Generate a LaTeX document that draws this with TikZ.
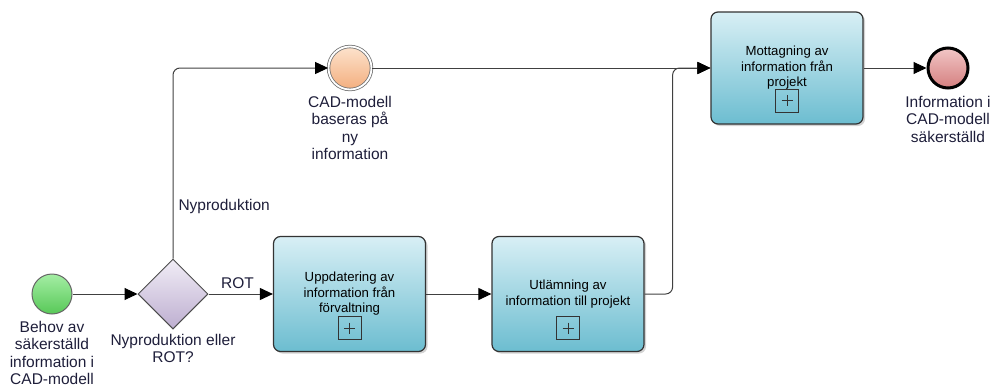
\documentclass[tikz,border=0pt]{standalone}
\usepackage{fontspec}
\setmainfont{Liberation Sans}
\usetikzlibrary{arrows.meta,positioning,shapes.geometric,shadows}

\definecolor{tasktop}{HTML}{D8EFF5}
\definecolor{taskbot}{HTML}{6CBDD0}
\definecolor{gwtop}{HTML}{F1EDF6}
\definecolor{gwbot}{HTML}{BDAED0}
\definecolor{starttop}{HTML}{A4EEA4}
\definecolor{startbot}{HTML}{58C858}
\definecolor{intertop}{HTML}{FDE3CD}
\definecolor{interbot}{HTML}{F3AE7E}
\definecolor{endtop}{HTML}{F2C6C6}
\definecolor{endbot}{HTML}{D47F7F}
\definecolor{labeltext}{HTML}{1E1E3A}

\tikzset{
  flow/.style={draw=black!75, line width=1pt, -{Triangle[length=13pt,width=12pt,color=black]}},
  task/.style={draw=black!80, line width=1.2pt, rounded corners=7pt, top color=tasktop, bottom color=taskbot,
    minimum width=152pt, align=center, font=\fontsize{13.2}{15.5}\selectfont,
    drop shadow={shadow xshift=2pt, shadow yshift=-2pt, opacity=0.35}},
  plusbox/.style={draw=black!80, line width=1pt, minimum size=23pt, inner sep=0pt,
    path picture={\draw[line width=1pt] (path picture bounding box.west) ++(6pt,0pt) -- ++(11pt,0pt);
                  \draw[line width=1pt] (path picture bounding box.north) ++(0pt,-6pt) -- ++(0pt,-11pt);}},
  evlabel/.style={anchor=north, inner sep=0pt, align=center, text=labeltext, font=\fontsize{15.5}{17.5}\selectfont},
  flowlabel/.style={text=labeltext, font=\fontsize{15.5}{17}\selectfont},
  event/.style={circle, inner sep=0pt, minimum size=40pt}
}

\begin{document}
\begin{tikzpicture}[x=1pt,y=-1pt]
\useasboundingbox (0,0) rectangle (993,388);

% events and gateway
\node[event, draw=black!60, line width=1pt, top color=starttop, bottom color=startbot] (start) at (52,294) {};
\node[diamond, draw=black!70, line width=1pt, top color=gwtop, bottom color=gwbot, minimum width=70pt, minimum height=70pt, inner sep=0pt] (gw) at (173,294) {};
\node[event, minimum size=43pt, draw=black!55, line width=0.8pt, double=white, double distance=1.8pt, top color=intertop, bottom color=interbot] (inter) at (350,68) {};
\node[event, draw=black, line width=3pt, top color=endtop, bottom color=endbot] (end) at (948,68) {};

% tasks
\node[task, minimum height=115pt] (upd) at (349.5,294) {Uppdatering av\\information från\\förvaltning};
\node[task, minimum height=115pt] (utl) at (568,294) {Utlämning av\\information till projekt};
\node[task, minimum height=112pt] (mott) at (787,68) {Mottagning av\\information från\\projekt};
\foreach \t in {upd,utl,mott} \node[plusbox, above=12pt of \t.south] (\t plus) {};

% labels
\node[evlabel] (startlbl) at (52,321) {Behov av\\säkerställd\\information i\\CAD-modell};
\node[evlabel] (gwlbl) at (173,334) {Nyproduktion eller\\ROT?};
\node[evlabel] (interlbl) at (350,96) {CAD-modell\\baseras på\\ny\\information};
\node[evlabel] (endlbl) at (948,96) {Information i\\CAD-modell\\säkerställd};

% flows
\draw[flow] (start) -- (gw);
\draw[flow] (gw) -- node[above, pos=0.45, inner sep=5pt, flowlabel] (rotlbl) {ROT} (upd);
\draw[flow, rounded corners=7pt] (gw.north) |- node[pos=0.136, right, inner sep=5pt, flowlabel] (nylbl) {Nyproduktion} (inter.west);
\draw[flow] (upd) -- (utl);
\draw[flow, rounded corners=7pt] (utl.east) -- ++(28,0) |- (mott.west);
\draw[flow] (inter) -- (mott);
\draw[flow] (mott) -- (end);
\end{tikzpicture}
\end{document}
